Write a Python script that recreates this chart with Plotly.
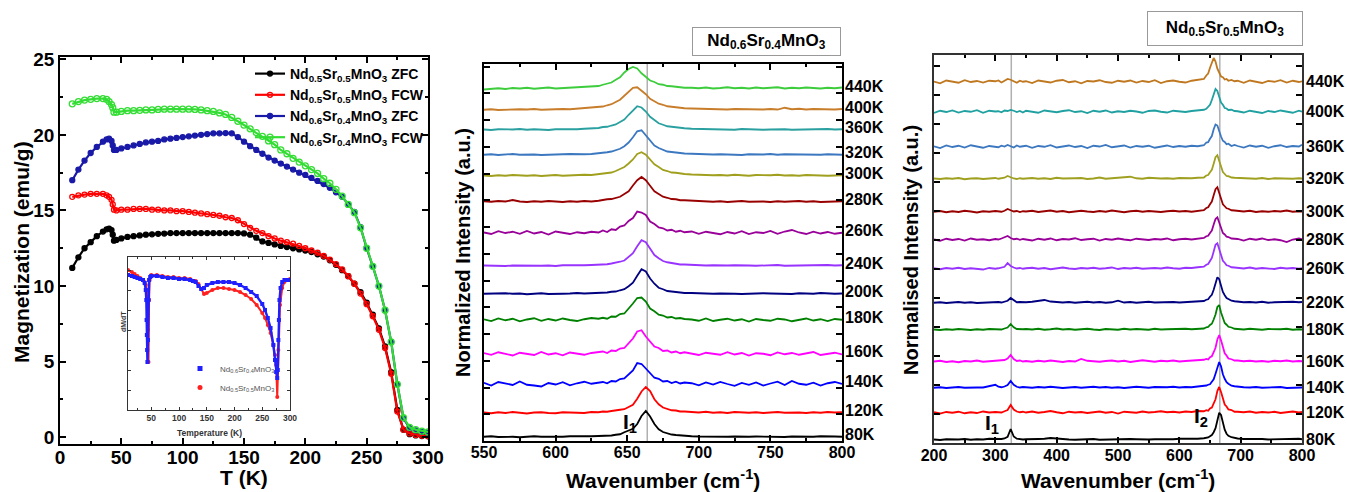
import plotly.graph_objects as go

FONT = "Liberation Sans"
W, H = 1347, 492

# ---------------- Panel (a): magnetization vs temperature ----------------
T = [10, 15, 20, 25, 30, 35, 38, 40, 42, 43, 44, 46,
     50, 55, 60, 65, 70, 75, 80, 85, 90, 95,
     100, 105, 110, 115, 120, 125, 130, 135, 140, 145,
     150, 155, 160, 165, 170, 175, 180, 185, 190, 195,
     200, 205, 210, 215, 220, 225, 230, 235, 240, 245,
     250, 255, 260, 265, 270, 275, 280, 285, 290, 295, 300]

M_55_ZFC = [11.2, 11.9, 12.5, 12.9, 13.3, 13.6, 13.75, 13.8, 13.7, 13.4, 13.0, 13.05,
            13.15, 13.25, 13.3, 13.35, 13.4, 13.42, 13.45, 13.47, 13.5, 13.5,
            13.5, 13.5, 13.5, 13.5, 13.5, 13.5, 13.5, 13.5, 13.5, 13.5,
            13.48, 13.4, 13.2, 12.95, 12.85, 12.75, 12.65, 12.58, 12.5, 12.42,
            12.35, 12.25, 12.1, 11.95, 11.7, 11.4, 11.05, 10.65, 10.15, 9.6,
            8.9, 8.1, 7.2, 6.0, 4.3, 1.8, 0.5, 0.2, 0.12, 0.08, 0.06]

M_55_FCW = [15.9, 16.0, 16.05, 16.1, 16.1, 16.1, 16.0, 15.9, 15.7, 15.4, 15.05, 15.0,
            15.05, 15.05, 15.1, 15.1, 15.1, 15.05, 15.05, 15.0, 15.0, 14.95,
            14.95, 14.9, 14.85, 14.8, 14.75, 14.7, 14.65, 14.55, 14.5, 14.35,
            14.1, 13.85, 13.65, 13.5, 13.3, 13.15, 13.0, 12.9, 12.8, 12.65,
            12.5, 12.35, 12.2, 12.0, 11.75, 11.45, 11.1, 10.65, 10.15, 9.5,
            8.8, 8.0, 7.1, 5.9, 4.2, 1.7, 0.5, 0.25, 0.15, 0.1, 0.08]

M_64_ZFC = [17.0, 17.7, 18.3, 18.8, 19.2, 19.55, 19.7, 19.75, 19.6, 19.3, 19.0, 19.0,
            19.1, 19.2, 19.3, 19.4, 19.5, 19.55, 19.6, 19.7, 19.75, 19.8,
            19.85, 19.9, 19.95, 20.0, 20.05, 20.1, 20.1, 20.12, 20.1, 19.85,
            19.55, 19.25, 19.0, 18.75, 18.5, 18.3, 18.1, 17.9, 17.7, 17.5,
            17.35, 17.15, 16.95, 16.75, 16.5, 16.2, 15.9, 15.4, 14.9, 13.9,
            12.5, 11.3, 10.0, 8.4, 6.3, 3.5, 1.25, 0.6, 0.45, 0.35, 0.3]

M_64_FCW = [22.05, 22.2, 22.3, 22.35, 22.4, 22.4, 22.35, 22.2, 22.0, 21.8, 21.5, 21.5,
            21.55, 21.6, 21.6, 21.62, 21.65, 21.65, 21.68, 21.7, 21.7, 21.7,
            21.7, 21.7, 21.68, 21.65, 21.6, 21.55, 21.45, 21.35, 21.15, 20.9,
            20.65, 20.4, 20.15, 19.9, 19.6, 19.35, 19.0, 18.75, 18.45, 18.2,
            17.95, 17.7, 17.45, 17.1, 16.8, 16.4, 15.95, 15.4, 14.85, 13.85,
            12.5, 11.3, 10.0, 8.4, 6.3, 3.5, 1.3, 0.65, 0.5, 0.4, 0.35]

# inset dM/dT (arbitrary units)
T_in_64 = [8, 15, 20, 25, 30, 35, 38, 40, 41, 41.5, 42, 42.5, 43, 44, 45, 46, 48, 50, 60, 70,
           80, 90, 100, 110, 120, 125, 130, 135, 140, 145, 150, 160, 170, 180, 190, 200, 210,
           220, 230, 240, 250, 255, 260, 265, 270, 273, 275, 277, 278, 279, 280, 281, 283,
           286, 290, 295, 300]
dMdT_64 = [13.5, 13.4, 13.3, 13.2, 13.1, 13.0, 12.7, 12.0, 11.0, 9.0, 7.5, 6.0, 4.8, 7.0, 11.0,
           13.0, 13.3, 13.4, 13.4, 13.3, 13.2, 13.2, 13.1, 13.1, 13.0, 12.9, 12.8, 12.4, 12.1,
           12.2, 12.5, 12.7, 12.8, 12.8, 12.8, 12.7, 12.5, 12.2, 11.8, 11.4, 10.6, 10.0, 9.2,
           8.2, 6.5, 5.0, 3.8, 3.2, 4.0, 7.0, 9.0, 11.0, 12.2, 12.8, 13.0, 13.0, 13.0]
T_in_55 = [8, 15, 20, 25, 30, 35, 38, 40, 42, 43, 44, 45, 46, 47, 50, 60, 70, 80, 90, 100,
           110, 120, 130, 135, 140, 145, 150, 160, 170, 180, 190, 200, 210, 220, 230, 240,
           250, 255, 260, 265, 270, 273, 275, 277, 279, 282, 286, 290, 295, 300]
dMdT_55 = [14.0, 13.8, 13.6, 13.4, 13.2, 13.0, 12.8, 12.5, 12.0, 11.0, 8.0, 4.8, 11.0, 13.0,
           13.5, 13.5, 13.4, 13.3, 13.3, 13.2, 13.2, 13.1, 12.9, 12.6, 12.1, 11.6, 11.7, 12.0,
           12.2, 12.2, 12.1, 12.0, 11.8, 11.5, 11.1, 10.5, 9.7, 9.2, 8.5, 7.7, 6.5, 5.5, 4.5,
           1.3, 6.0, 10.5, 12.2, 12.8, 13.0, 13.1]

# ---------------- Panel (b): Raman, Nd0.6Sr0.4MnO3 ----------------
WN_b = [550, 555, 560, 565, 570, 575, 580, 585, 590, 595, 600, 605, 610, 615, 620, 625, 630,
        633, 636, 639, 642, 645, 648, 651, 654, 657, 660, 663, 666, 669, 672, 675, 678, 681,
        684, 687, 690, 695, 700, 705, 710, 715, 720, 725, 730, 735, 740, 745, 750, 755, 760,
        765, 770, 775, 780, 785, 790, 795, 800]
temps_b = ["80K", "120K", "140K", "160K", "180K", "200K", "240K", "260K", "280K", "300K",
           "320K", "360K", "400K", "440K"]
offset_b = [16, 112, 228, 348, 484, 588, 700, 832, 956, 1060, 1144, 1244, 1324, 1408]
color_b = ["#000000", "#ff0000", "#0000ff", "#ff00ff", "#008000", "#000080", "#9933ff",
           "#990099", "#990000", "#a0a01e", "#3c78c0", "#2aa0a0", "#c87d2a", "#3ccc3c"]

b_80K = [1, 3, 0, 2, 1, -1, 2, 3, 1, 0, 2, 1, 3, 2, 4, 3, 4,
         4, 6, 6, 9, 11, 19, 25, 33, 52, 84, 104, 82, 52, 31, 20, 14, 10, 8, 6, 5,
         3, 2, 1, 3, 2, 1, 2, 0, 1, 2, 1, 3, 1, 0, 2, 1, 2, 1, 3, 1, 2, 1]
b_120K = [2, -1, 3, 0, 4, 1, -2, 2, 3, 0, -1, 3, 1, 2, 0, 4, 3,
          6, 5, 8, 9, 13, 15, 24, 33, 57, 86, 104, 88, 55, 35, 22, 17, 11, 10, 6, 6,
          4, 2, 5, 1, 3, 0, 4, 2, 1, 3, 0, 2, 4, 1, 3, 2, 0, 3, 1, 4, 2, 3]
b_140K = [5, -6, 8, 2, -4, 10, -3, -6, -10, 4, -2, 7, -5, 3, 9, 1, 6,
          8, 3, 12, 10, 20, 22, 38, 54, 84, 80, 62, 44, 25, 21, 10, 12, 4, 9, 2, 6,
          3, -5, 6, -2, 8, 0, -7, 4, -3, 6, -6, 2, 9, -4, 12, 1, -3, 5, -6, 3, 8, 0]
b_160K = [4, -3, 7, 0, -6, 5, 2, -4, 8, -2, 3, -5, 6, 1, -3, 4, 8,
          10, 4, 14, 12, 22, 24, 43, 62, 90, 95, 70, 50, 30, 24, 12, 14, 6, 10, 3, 7,
          2, -4, 5, 0, -3, 7, -2, 4, -6, 3, 1, -5, 6, -1, 4, -3, 2, 8, -4, 1, 5, -2]
b_180K = [3, -4, 6, -1, 5, -5, 2, 7, -3, 4, -2, 6, 0, -4, 3, 8, 5,
          9, 5, 14, 13, 24, 26, 45, 66, 88, 90, 74, 46, 35, 21, 18, 10, 12, 6, 8, 4,
          2, -3, 6, -4, 1, 5, -2, 3, -6, 4, 0, -3, 5, 2, -5, 1, 6, -2, 3, -4, 4, 1]
b_200K = [1, 2, 0, 3, 1, 2, -1, 1, 3, 0, 2, 1, 2, 4, 2, 3, 4,
          6, 6, 9, 10, 15, 19, 31, 45, 73, 99, 90, 62, 41, 25, 19, 12, 10, 7, 6, 4,
          4, 2, 3, 1, 2, 3, 1, 0, 2, 1, 3, 2, 1, 2, 0, 3, 2, 1, 4, 2, 1, 2]
b_240K = [2, 1, 3, 0, 2, 1, 3, 2, 1, 2, 0, 3, 2, 1, 3, 4, 5,
          7, 7, 10, 12, 17, 22, 35, 51, 79, 103, 95, 70, 44, 31, 20, 15, 11, 9, 6, 6,
          4, 3, 2, 3, 1, 2, 3, 1, 2, 1, 3, 2, 4, 1, 2, 3, 1, 2, 3, 4, 2, 3]
b_260K = [2, -4, 7, 0, 5, -3, 8, -2, 4, -6, 6, 1, -4, 3, -1, 5, 2,
          10, 4, 15, 12, 26, 30, 48, 60, 86, 82, 72, 46, 36, 22, 19, 10, 13, 5, 9, 3,
          6, -3, 5, 0, -5, 4, -2, 7, -4, 3, 0, 8, -3, 6, 12, 2, -4, 5, -2, 4, -3, 1]
b_280K = [3, 1, 4, 2, 8, 2, 0, 3, 1, 4, 2, 0, 3, 1, 4, 2, 5,
          9, 11, 12, 18, 21, 32, 43, 66, 87, 100, 87, 65, 43, 32, 21, 17, 12, 11, 7, 7,
          5, 3, 4, 1, 3, 0, 2, 4, 1, 3, 2, 0, 3, 1, 2, 4, 1, 3, 0, 2, 4, 3]
b_300K = [2, 0, 3, 1, 4, 2, 1, 3, 0, 2, 4, 1, 3, 2, 5, 4, 7,
          11, 12, 14, 20, 27, 36, 50, 66, 88, 95, 85, 68, 47, 36, 24, 20, 14, 13, 9, 8,
          6, 4, 5, 3, 4, 2, 5, 3, 1, 4, 2, 3, 5, 2, 3, 1, 4, 2, 3, 1, 2, 3]
b_320K = [1, 3, 0, 2, 4, 1, 3, 2, 0, 2, 1, 3, 4, 2, 3, 4, 6,
          9, 11, 14, 19, 25, 35, 50, 71, 95, 99, 80, 58, 38, 28, 20, 14, 12, 9, 8, 6,
          5, 3, 4, 2, 3, 1, 2, 0, 3, 1, 2, 4, 1, 3, 2, 1, 3, 2, 1, 3, 2, 1]
b_360K = [2, 0, 3, 1, 2, 4, 1, 3, 2, 0, 3, 2, 4, 3, 5, 6, 8,
          12, 13, 18, 22, 32, 42, 61, 79, 95, 90, 74, 53, 39, 27, 21, 15, 13, 10, 8, 7,
          5, 4, 3, 5, 2, 3, 1, 4, 2, 3, 1, 2, 4, 3, 1, 2, 3, 1, 2, 4, 2, 3]
b_400K = [1, 3, 0, 2, 1, 3, 2, 4, 1, 3, 2, 4, 3, 5, 6, 8, 11,
          14, 19, 23, 32, 41, 57, 72, 89, 91, 78, 63, 45, 35, 25, 21, 15, 13, 10, 9, 7,
          6, 5, 4, 3, 5, 2, 4, 3, 1, 3, 2, 4, 2, 9, 3, 5, 2, 4, 3, 3, 2, 4]
b_440K = [-2, 1, 3, 0, 4, 2, 5, 1, 3, 6, 2, 4, 3, 5, 7, 9, 12,
          17, 22, 26, 37, 47, 66, 80, 88, 82, 63, 50, 34, 28, 19, 17, 12, 11, 8, 8, 5,
          5, 3, 6, 2, 4, 7, 3, 5, 2, 6, 3, 4, 7, 2, 5, 3, 6, 4, 2, 5, 3, 6]
spectra_b = [b_80K, b_120K, b_140K, b_160K, b_180K, b_200K, b_240K, b_260K, b_280K,
             b_300K, b_320K, b_360K, b_400K, b_440K]

# ---------------- Panel (c): Raman, Nd0.5Sr0.5MnO3 ----------------
WN_c = [200, 210, 220, 230, 240, 250, 260, 270, 280, 290, 300,
        305, 310, 315, 320, 325, 330, 335, 340, 345,
        350, 360, 370, 380, 390, 400, 410, 420, 430, 440, 450, 460, 470, 480, 490,
        500, 510, 520, 530, 540, 550, 560, 570, 580, 590, 600, 610, 620, 630, 640,
        644, 647, 650, 653, 656, 659, 662, 665, 668, 671, 674, 677, 680, 685, 690,
        695, 705, 715, 725, 735, 745, 755, 765, 775, 785, 795, 800]
temps_c = ["80K", "120K", "140K", "160K", "180K", "220K", "260K", "280K", "300K", "320K",
           "360K", "400K", "440K"]
offset_c = [12, 120, 220, 324, 452, 560, 696, 812, 924, 1056, 1184, 1324, 1444]
color_c = ["#000000", "#ff0000", "#0000ff", "#ff00ff", "#008000", "#000080", "#9933ff",
           "#990099", "#990000", "#a0a020", "#3c78c0", "#20a0a0", "#c07820"]

c_80K = [2, 0, 3, 1, 2, 4, 1, 3, 2, 5, 4,
         3, 4, 6, 13, 44, 14, 5, 3, 2,
         3, 2, 4, 5, 8, 6, 3, 2, 1, 3, 2, 4, 1, 2, 3, 1, 2, 4, 3, 1, 2, 3, 2, 4, 3, 5, 4, 6, 5, 7,
         9, 10, 15, 20, 31, 47, 78, 109, 100, 65, 41, 25, 17, 11, 8,
         6, 4, 5, 3, 4, 2, 3, 4, 2, 3, 5, 3]
c_120K = [3, -2, 4, 1, 5, -1, 3, 0, 6, 2, 4,
          4, 2, 7, 12, 32, 14, 6, 3, 5,
          2, 6, 1, 4, 8, 3, -1, 5, 2, 4, 0, 3, 6, 1, 4, -2, 5, 3, 1, 6, 2, 4, 7, 3, 5, 2, 6, 4, 8, 7,
          11, 9, 18, 22, 38, 55, 88, 104, 84, 58, 34, 26, 14, 12, 5,
          5, 3, 6, 1, 4, 2, 5, 0, 3, 6, 2, 4]
c_140K = [1, 3, 0, 2, 4, 1, 3, 2, 2, 6, 13,
          5, 3, 6, 12, 28, 13, 5, 2, 4,
          3, 1, 4, 2, 5, 3, 0, 2, 4, 1, 3, 5, 2, 4, 1, 3, 0, 2, 5, 3, 1, 4, 2, 3, 5, 2, 4, 3, 6, 8,
          10, 13, 15, 25, 35, 57, 85, 104, 87, 55, 37, 23, 17, 9, 7,
          5, 3, 2, 4, 1, 3, 2, 4, 0, 2, 3, 2]
c_160K = [2, 5, 0, 3, -1, 4, 2, 6, 1, 3, 5,
          3, 6, 8, 14, 28, 12, 4, 6, 2,
          4, 1, 5, 2, 6, 3, 0, 4, 2, 12, 5, 3, 1, 4, 6, 2, 5, 0, 3, 7, 4, 1, 5, 3, 6, 2, 4, 5, 7, 9,
          12, 10, 19, 23, 39, 57, 90, 108, 87, 60, 35, 26, 14, 11, 6,
          6, 3, 5, 2, 4, 1, 5, 3, 6, 2, 4, 3]
c_180K = [2, 0, 3, 1, 4, 2, 0, 3, 1, 4, 2,
          3, 2, 6, 10, 24, 11, 4, 2, 3,
          4, 2, 5, 1, 3, 6, 2, 4, 1, 3, 5, 2, 0, 4, 3, 1, 5, 2, 4, 3, 1, 5, 2, 3, 4, 2, 5, 3, 4, 6,
          11, 12, 20, 25, 42, 62, 92, 100, 70, 47, 28, 21, 13, 10, 5,
          4, 2, 5, 3, 1, 4, 2, 3, 5, 1, 3, 2]
c_220K = [1, 3, 0, 2, 4, 1, 3, 0, 2, 3, 5,
          4, 2, 5, 9, 20, 10, 3, 4, 2,
          3, 5, 10, 12, 6, 3, 2, 4, 1, 3, 5, 2, 4, 1, 3, 9, 2, 4, 1, 3, 5, 2, 3, 1, 4, 2, 3, 5, 4, 8,
          13, 15, 25, 33, 53, 77, 103, 95, 70, 44, 31, 20, 16, 9, 7,
          5, 3, 4, 2, 5, 1, 3, 4, 2, 5, 3, 4]
c_260K = [3, -1, 4, 1, 5, 0, 3, 2, -2, 4, 1,
          3, 5, 9, 24, 12, 6, 2, 4, 1,
          3, 5, 1, 4, -1, 3, 6, 2, 0, 4, 2, 5, 1, 3, 6, 0, 4, 2, 5, 1, 3, 4, 2, 6, 3, 1, 5, 4, 7, 9,
          17, 20, 32, 44, 70, 97, 103, 76, 53, 33, 25, 15, 13, 7, 6,
          5, 2, 6, 1, 4, 3, 0, 5, 2, 4, 1, 3]
c_280K = [2, -3, 5, 0, 4, -2, 6, 1, 3, -1, 4,
          2, 6, 10, 16, 8, 3, 5, 1, 4,
          3, -2, 5, 1, 6, -1, 4, 2, 7, 0, 3, 5, -2, 4, 1, 6, 2, -1, 5, 3, 0, 4, 2, 6, -1, 3, 5, 2, 6, 8,
          15, 17, 28, 38, 62, 84, 91, 68, 47, 28, 22, 13, 12, 6, 5,
          4, -2, 5, 1, 6, 0, 3, -1, -8, 2, 6, 3]
c_300K = [1, 4, -1, 3, 0, 5, 2, -2, 3, 1, 4,
          3, 1, 5, 12, 7, 2, 4, 0, 3,
          2, 5, 0, 3, 6, 1, 4, -1, 3, 5, 2, 0, 4, 1, 6, 2, -1, 3, 5, 1, 4, 2, 0, 3, 5, 2, 4, 1, 5, 7,
          16, 19, 31, 42, 67, 91, 99, 74, 52, 31, 23, 15, 13, 7, 6,
          4, 2, 5, 0, 3, 1, 4, 2, 6, 1, 3, 2]
c_320K = [2, 0, 3, 1, 4, -1, 2, 3, 0, 2, 4,
          1, 3, 5, 12, 6, 2, 0, 3, 1,
          2, 4, 1, 3, 0, 5, 2, 1, 3, 4, 0, 2, 6, 1, 3, 2, 4, 9, 3, 1, 5, 2, 2, 3, 1, 4, 2, 3, 5, 6,
          14, 16, 27, 37, 61, 87, 95, 69, 45, 28, 20, 12, 11, 6, 5,
          4, 2, 3, 1, 4, 0, 3, 2, 4, 1, 3, 2]
c_360K = [3, -4, 6, 0, 5, -2, 7, 1, -3, 4, 2,
          -1, 5, 2, 8, 4, -2, 6, 1, 3,
          5, -3, 4, 1, 7, -2, 3, 6, 0, 4, -4, 5, 2, 8, -1, 3, 6, -2, 4, 1, 5, -3, 2, 6, 0, 4, 1, 5, 3, 7,
          18, 19, 33, 44, 71, 90, 86, 59, 42, 25, 20, 11, 13, 4, 8,
          4, -2, 6, 1, 5, -3, 3, 7, 0, 4, 2, 9]
c_400K = [-4, 5, 0, 6, -2, 4, 1, 7, -3, 5, 2,
          3, -1, 6, 4, 8, 5, 0, 4, -2,
          5, 1, -3, 6, 2, -1, 4, 7, 0, 3, -4, 5, 1, 6, -2, 3, 0, 5, 2, -3, 4, 6, 1, -2, 5, 3, 0, 4, 6, 9,
          13, 23, 29, 48, 68, 92, 84, 62, 38, 29, 16, 14, 8, 9, 4,
          3, -2, 5, 1, -4, 4, 0, 6, 2, -3, 5, 1]
c_440K = [2, -5, 6, 1, -3, 7, 0, 4, -2, 5, 3,
          6, -2, 5, 12, 9, 4, -3, 5, 1,
          3, -4, 6, 1, -2, 5, 8, -1, 3, -5, 4, 2, 7, 0, -3, 5, 1, 6, -2, 4, 0, 7, -4, 3, 6, 1, -2, 5, 8, 12,
          26, 34, 57, 80, 96, 82, 53, 38, 22, 19, 10, 12, 5, 8, 3,
          5, -3, 6, 2, -4, 4, 1, 7, -2, 5, 0, 3]
spectra_c = [c_80K, c_120K, c_140K, c_160K, c_180K, c_220K, c_260K, c_280K, c_300K,
             c_320K, c_360K, c_400K, c_440K]

# reference mode positions (cm^-1)
line_b = [664]
line_c = [326, 666]


# ---------------- helpers ----------------
def px(x):
    return x / W


def py(y):
    return 1 - y / H


def bold(size, color="black"):
    return dict(family=FONT, size=size, color=color, weight="bold")


def axis(**kw):
    d = dict(showline=True, linecolor="black", linewidth=1.5, mirror="ticks",
             ticks="inside", ticklen=6, tickwidth=1.5, tickcolor="black",
             showgrid=False, zeroline=False, tickfont=bold(19), automargin=False)
    d.update(kw)
    return d


def label(text, x, y, size, color="black", angle=0, **kw):
    d = dict(text=text, x=x, y=y, xref="paper", yref="paper", xanchor="center",
             yanchor="middle", textangle=angle, showarrow=False, font=bold(size, color))
    d.update(kw)
    return d


fig = go.Figure()

# main panel traces
main_series = [
    (M_55_ZFC, "#000000", "circle", "Nd<sub>0.5</sub>Sr<sub>0.5</sub>MnO<sub>3</sub> ZFC", 5),
    (M_55_FCW, "#ff0000", "circle-open", "Nd<sub>0.5</sub>Sr<sub>0.5</sub>MnO<sub>3</sub> FCW", 5),
    (M_64_ZFC, "#1a1aa8", "circle", "Nd<sub>0.6</sub>Sr<sub>0.4</sub>MnO<sub>3</sub> ZFC", 5),
    (M_64_FCW, "#33dd33", "circle-open", "Nd<sub>0.6</sub>Sr<sub>0.4</sub>MnO<sub>3</sub> FCW", 6),
]
for ys, col, sym, name, ms in main_series:
    fig.add_trace(go.Scatter(
        x=T, y=ys, mode="lines+markers", name=name,
        line=dict(color=col, width=2.2),
        marker=dict(symbol=sym, size=ms, color=col, line=dict(color=col, width=1.3)),
        xaxis="x", yaxis="y", legend="legend"))

# inset traces
fig.add_trace(go.Scatter(x=T_in_55, y=dMdT_55, mode="lines+markers",
                         line=dict(color="#ff2020", width=2),
                         marker=dict(symbol="circle", size=4, color="#ff2020"),
                         xaxis="x2", yaxis="y2", showlegend=False))
fig.add_trace(go.Scatter(x=T_in_64, y=dMdT_64, mode="lines+markers",
                         line=dict(color="#2020ff", width=2.4),
                         marker=dict(symbol="square", size=4, color="#2020ff"),
                         xaxis="x2", yaxis="y2", showlegend=False))
fig.add_trace(go.Scatter(x=[None], y=[None], mode="markers",
                         name="Nd<sub>0.6</sub>Sr<sub>0.4</sub>MnO<sub>3</sub>",
                         marker=dict(symbol="square", size=5, color="#2020ff"),
                         xaxis="x2", yaxis="y2", legend="legend2"))
fig.add_trace(go.Scatter(x=[None], y=[None], mode="markers",
                         name="Nd<sub>0.5</sub>Sr<sub>0.5</sub>MnO<sub>3</sub>",
                         marker=dict(symbol="circle", size=5, color="#ff2020"),
                         xaxis="x2", yaxis="y2", legend="legend2"))

# Raman spectra panel b
for name, off, col, arr in zip(temps_b, offset_b, color_b, spectra_b):
    fig.add_trace(go.Scatter(x=WN_b, y=[off + v for v in arr], mode="lines",
                             line=dict(color=col, width=1.8),
                             xaxis="x3", yaxis="y3", showlegend=False))
# Raman spectra panel c
for name, off, col, arr in zip(temps_c, offset_c, color_c, spectra_c):
    fig.add_trace(go.Scatter(x=WN_c, y=[off + v for v in arr], mode="lines",
                             line=dict(color=col, width=1.8),
                             xaxis="x4", yaxis="y4", showlegend=False))

shapes = []
for xv in line_b:
    shapes.append(dict(type="line", xref="x3", yref="y3 domain", x0=xv, x1=xv, y0=0, y1=1,
                       line=dict(color="#b0b0b0", width=1.5), layer="below"))
for xv in line_c:
    shapes.append(dict(type="line", xref="x4", yref="y4 domain", x0=xv, x1=xv, y0=0, y1=1,
                       line=dict(color="#b0b0b0", width=1.5), layer="below"))

ann = []
# axis titles
ann.append(label("Magnetization (emu/g)", px(21), py(252), 21, angle=-90))
ann.append(label("T (K)", px(244), py(477), 21))
ann.append(label("Temperature (K)", px(209), py(433), 8.5, "#333"))
ann.append(label("dM/dT", px(123), py(322), 7, "#333", angle=-90))
ann.append(label("Normalized Intensity (a.u.)", px(463), py(253), 20, angle=-90))
ann.append(label("Wavenumber (cm<sup>-1</sup>)", px(663), py(479), 21))
ann.append(label("Normalised Intensity (a.u.)", px(911), py(250), 20, angle=-90))
ann.append(label("Wavenumber (cm<sup>-1</sup>)", px(1118), py(479), 21))
# title boxes
ann.append(label("Nd<sub>0.6</sub>Sr<sub>0.4</sub>MnO<sub>3</sub>", px(767), py(42), 17,
                 bordercolor="#999999", borderwidth=1, borderpad=2, bgcolor="white",
                 width=143, height=23))
ann.append(label("Nd<sub>0.5</sub>Sr<sub>0.5</sub>MnO<sub>3</sub>", px(1225), py(28.5), 17,
                 bordercolor="#999999", borderwidth=1, borderpad=2, bgcolor="white",
                 width=150, height=29))
# temperature labels
for name, off in zip(temps_b, offset_b):
    ann.append(dict(text=name, x=px(843), y=off + 10, xref="paper", yref="y3",
                    xanchor="left", yanchor="middle", showarrow=False, font=bold(16)))
for name, off in zip(temps_c, offset_c):
    ann.append(dict(text=name, x=px(1304), y=off + 4, xref="paper", yref="y4",
                    xanchor="left", yanchor="middle", showarrow=False, font=bold(16)))
# mode labels
ann.append(dict(text="I<sub>1</sub>", x=652, y=74, xref="x3", yref="y3", showarrow=False,
                xanchor="center", yanchor="middle", font=bold(21)))
ann.append(dict(text="I<sub>1</sub>", x=294, y=76, xref="x4", yref="y4", showarrow=False,
                xanchor="center", yanchor="middle", font=bold(21)))
ann.append(dict(text="I<sub>2</sub>", x=635, y=104, xref="x4", yref="y4", showarrow=False,
                xanchor="center", yanchor="middle", font=bold(21)))

fig.update_layout(
    width=W, height=H, autosize=False,
    margin=dict(l=0, r=0, t=0, b=0, pad=0, autoexpand=False),
    paper_bgcolor="white", plot_bgcolor="white",
    font=dict(family=FONT, color="black"),
    xaxis=axis(domain=[px(60), px(428)], range=[0, 300], dtick=50, anchor="y",
               ticklabelstandoff=-5,
               minor=dict(ticks="inside", dtick=25, ticklen=3, tickcolor="black")),
    yaxis=axis(domain=[py(444), py(57)], range=[-0.45, 25.15], dtick=5, anchor="x",
               minor=dict(ticks="inside", dtick=2.5, ticklen=3, tickcolor="black")),
    xaxis2=axis(domain=[px(128), px(290)], range=[8, 300], dtick=50, tick0=0, anchor="y2",
                linewidth=1, linecolor="#333", ticklen=3, tickwidth=1, tickcolor="#333",
                tickfont=bold(8.5, "#333"),
                minor=dict(ticks="inside", dtick=25, ticklen=2, tickcolor="#333")),
    yaxis2=axis(domain=[py(410), py(257)], range=[0, 15.3], dtick=2, anchor="x2",
                linewidth=1, linecolor="#333", ticklen=3, tickwidth=1, tickcolor="#333",
                showticklabels=False),
    xaxis3=axis(domain=[px(484), px(842)], range=[550, 800], dtick=50, anchor="y3",
                tickfont=bold(16), ticklabelstandoff=-4,
                minor=dict(ticks="inside", dtick=25, ticklen=3, tickcolor="black")),
    yaxis3=axis(domain=[py(441), py(64)], range=[0, 1508], dtick=107, anchor="x3",
                showticklabels=False),
    xaxis4=axis(domain=[px(934), px(1302)], range=[200, 800], dtick=100, anchor="y4",
                tickfont=bold(16), linecolor="#333", ticklabelstandoff=-3,
                minor=dict(ticks="inside", dtick=50, ticklen=3, tickcolor="black")),
    yaxis4=axis(domain=[py(443), py(55)], range=[0, 1552], dtick=116, anchor="x4",
                showticklabels=False, linecolor="#333"),
    legend=dict(x=px(250), y=py(58), xanchor="left", yanchor="top",
                font=bold(14), bgcolor="rgba(0,0,0,0)", tracegroupgap=0, itemwidth=30),
    legend2=dict(x=px(180), y=py(354), xanchor="left", yanchor="top",
                 font=dict(family=FONT, size=8, color="#555"), bgcolor="rgba(0,0,0,0)",
                 itemwidth=30),
    shapes=shapes,
    annotations=ann,
)

fig.write_html("out.html", config={"displayModeBar": False},
               post_script="document.body.style.margin='0';document.body.style.overflow='hidden';")
